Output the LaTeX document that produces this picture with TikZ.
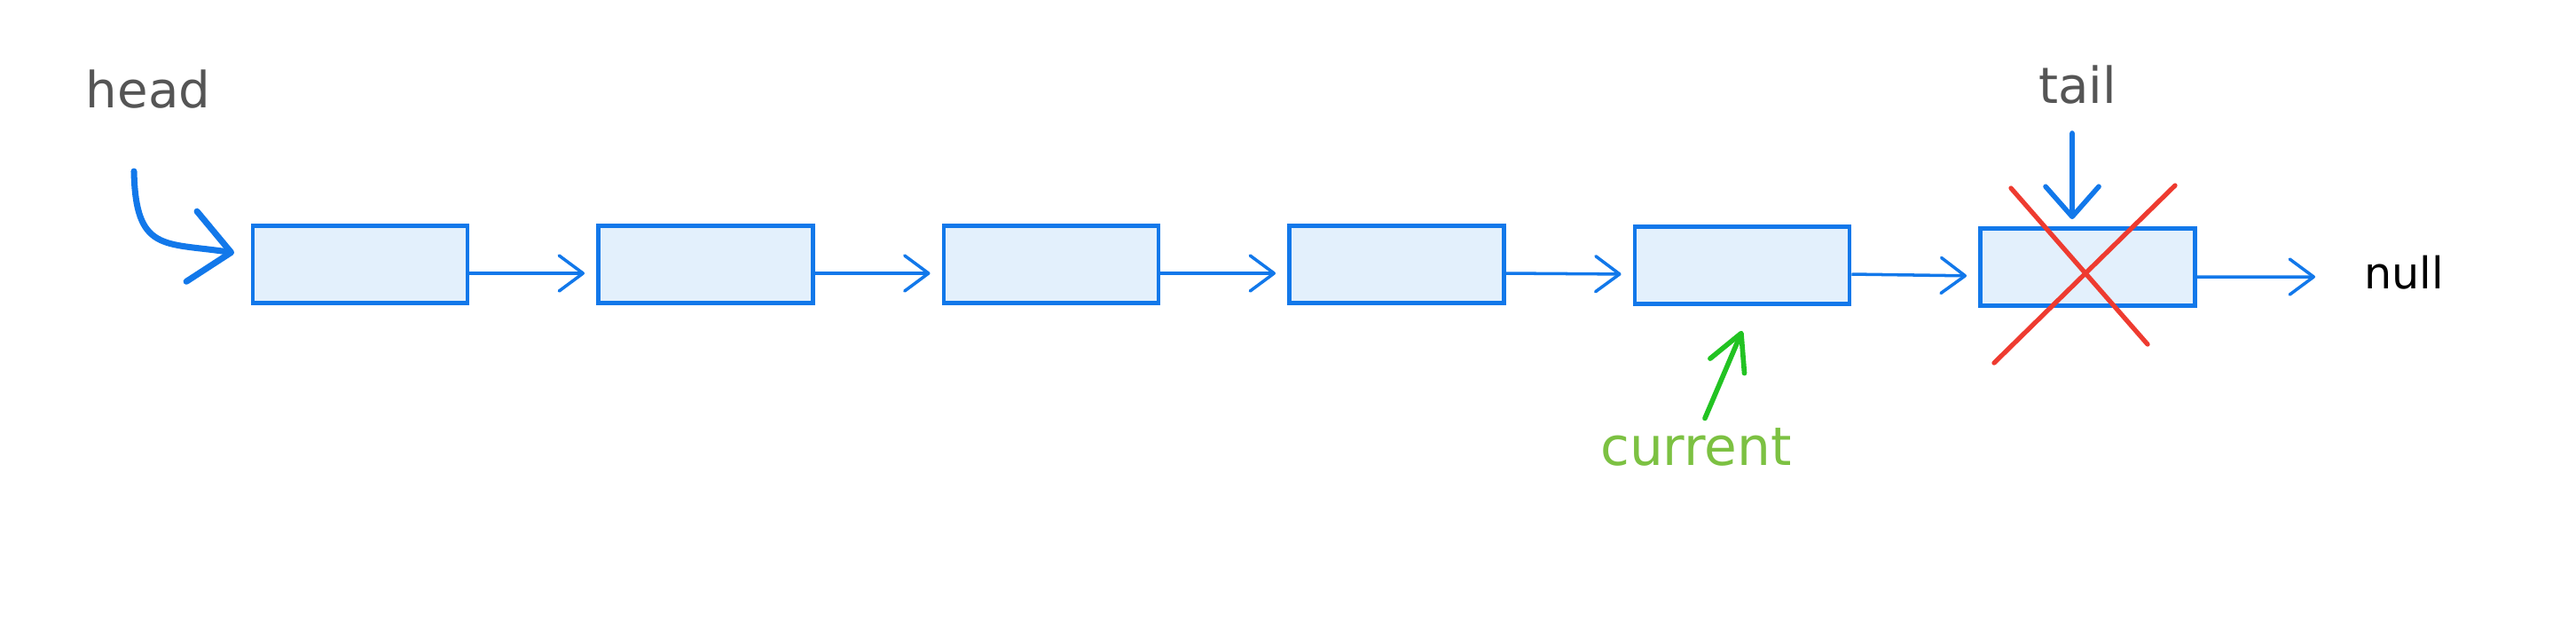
\documentclass[tikz,border=0pt]{standalone}
\usepackage{fontspec}
\setmainfont{DejaVu Sans}
\usetikzlibrary{arrows.meta}

\definecolor{nodeblue}{HTML}{1278EA}
\definecolor{nodefill}{HTML}{E3F0FC}
\definecolor{crossred}{HTML}{EE3B30}
\definecolor{curgreen}{HTML}{22C322}
\definecolor{curtext}{HTML}{7CC142}
\definecolor{labelgray}{HTML}{555555}

\tikzset{
    listnode/.style={draw=nodeblue, fill=nodefill, line width=1.4pt,
        minimum width=2.42cm, minimum height=0.87cm, inner sep=0pt},
    link/.style={->, draw=nodeblue, line width=1pt, shorten >=1.3mm,
        >={Straight Barb[length=2.7mm,width=4mm,round]}},
    ptrlabel/.style={text=labelgray, font=\fontsize{16}{18}\selectfont, inner sep=1pt},
    cross/.style={draw=crossred, line width=1.5pt, line cap=round}
}

\begin{document}
\begin{tikzpicture}[x=1cm, y=-1cm]
            \useasboundingbox (0,0) rectangle (29.04,7.00);

            \node[listnode] (b1) at (4.06, 2.98) {};
            \node[listnode] (b2) at (7.955, 2.98) {};
            \node[listnode] (b3) at (11.85, 2.98) {};
            \node[listnode] (b4) at (15.745, 2.98) {};
            \node[listnode] (b5) at (19.64, 2.99) {};
            \node[listnode] (b6) at (23.535, 3.01) {};

            \node[ptrlabel] (head) at (1.67, 1.01) {head};
            \node[ptrlabel] (tail) at (23.42, 0.96) {tail};
            \node[ptrlabel, text=curtext, font=\fontsize{17}{19}\selectfont] (current) at (19.12, 5.04) {current};
            \node[inner sep=1pt, font=\fontsize{14}{16}\selectfont] (null) at (27.10, 3.07) {null};

            \coordinate (headptr) at (1.51, 1.93);
            \coordinate (tailptr) at (23.36, 1.50);
            \coordinate (nullptr) at (26.10, 3.12);

            \draw[link] ([yshift=-1mm]b1.east) -- ([yshift=-1mm]b2.west);
            \draw[link] ([yshift=-1mm]b2.east) -- ([yshift=-1mm]b3.west);
            \draw[link] ([yshift=-1mm]b3.east) -- ([yshift=-1mm]b4.west);
            \draw[link] ([yshift=-1mm]b4.east) -- ([yshift=-1mm]b5.west);
            \draw[link] ([yshift=-1mm]b5.east) -- ([yshift=-1mm]b6.west);
            \draw[link, shorten >=0pt] ([yshift=-1.1mm]b6.east) -- (nullptr);

            % pointers
            \draw[->, draw=nodeblue, line width=2pt, line cap=round,
                >={Straight Barb[length=4.5mm,width=8mm,round]}]
                (headptr) .. controls (1.53, 2.85) and (1.85, 2.73) .. ([xshift=-1.85mm, yshift=1.3mm]b1.west);
            \draw[->, draw=nodeblue, line width=1.6pt, line cap=round,
                >={Straight Barb[length=3.4mm,width=6mm,round]}]
                (tailptr) -- ([xshift=-1.75mm, yshift=0.8mm]b6.north);
            \draw[->, draw=curgreen, line width=1.6pt, line cap=round,
                >={Straight Barb[length=4mm,width=4.2mm,round]}]
                ([xshift=1mm, yshift=0.7mm]current.north) -- ([yshift=-2.8mm]b5.south);

            \draw[cross] (22.67, 2.12) -- (24.21, 3.88);
            \draw[cross] (24.52, 2.09) -- (22.48, 4.09);
        \end{tikzpicture}
\end{document}
